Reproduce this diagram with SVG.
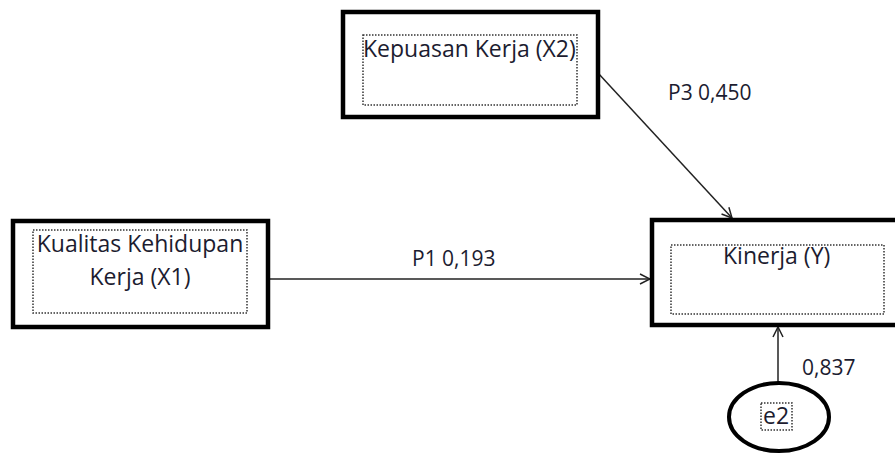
<svg xmlns="http://www.w3.org/2000/svg" width="895" height="454" viewBox="0 0 895 454">
<defs>
<style>
.box{fill:#fff;stroke:#000;stroke-width:4.5}
.inner{fill:none;stroke:#333;stroke-width:1.5;stroke-dasharray:1.5 1.5}
.t{font-family:"Open Sans","Noto Sans",sans-serif;font-size:23px;fill:#1c1c30}
.l{font-family:"Open Sans","Noto Sans",sans-serif;font-size:21px;fill:#1c1c30}
.c{stroke:#222;stroke-width:1.5;fill:none}
</style>
<marker id="ah" viewBox="0 0 12 12" refX="11" refY="6" markerWidth="12" markerHeight="12" markerUnits="userSpaceOnUse" orient="auto">
<path d="M1,1 L11,6 L1,11" fill="none" stroke="#222" stroke-width="1.5"/>
</marker>
</defs>
<g id="connectors">
<line class="c" x1="598" y1="73" x2="732" y2="218" marker-end="url(#ah)"/>
<line class="c" x1="268" y1="279" x2="650" y2="279" marker-end="url(#ah)"/>
<line class="c" x1="778" y1="383" x2="778" y2="327" marker-end="url(#ah)"/>
<text class="l" x="668" y="100">P3 0,450</text>
<text class="l" x="412" y="266">P1 0,193</text>
<text class="l" x="802" y="375">0,837</text>
</g>
<g id="x2">
<rect class="box" x="343" y="12" width="255" height="105"/>
<rect class="inner" x="363" y="35" width="214" height="70"/>
<text class="t" x="363" y="57">Kepuasan Kerja (X2)</text>
</g>
<g id="x1">
<rect class="box" x="13" y="221" width="255" height="106"/>
<rect class="inner" x="33" y="230" width="214" height="83"/>
<text class="t" x="140" y="252" text-anchor="middle">Kualitas Kehidupan</text>
<text class="t" x="140" y="285" text-anchor="middle">Kerja (X1)</text>
</g>
<g id="y">
<rect class="box" x="652" y="220" width="250" height="105"/>
<rect class="inner" x="671" y="245" width="213" height="69"/>
<text class="t" x="723" y="264">Kinerja (Y)</text>
</g>
<g id="e2">
<ellipse cx="779" cy="417" rx="50" ry="34" fill="#fff" stroke="#000" stroke-width="4"/>
<rect class="inner" x="761" y="403" width="31" height="27"/>
<text class="t" x="763" y="424">e2</text>
</g>
</svg>
